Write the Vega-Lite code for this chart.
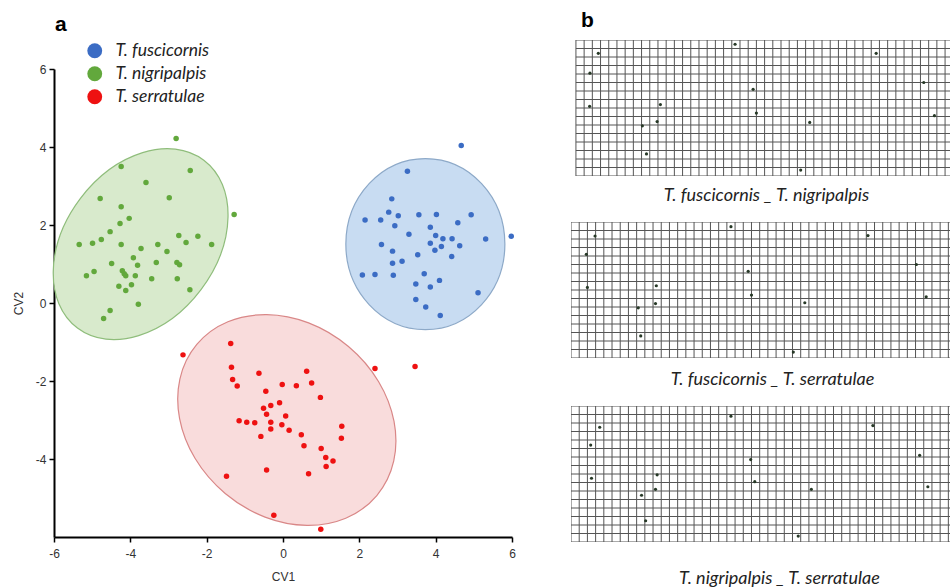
{
"$schema": "https://vega.github.io/schema/vega-lite/v6.json",
"background": "white",
"padding": {"left": 12, "top": 10, "right": 0, "bottom": 0},
"config": {"view": {"stroke": null}, "font": "Liberation Sans"},
"datasets": {
"ell": [{"sp":"T. fuscicornis","x":3.73,"y":1.51},{"sp":"T. nigripalpis","x":-3.73,"y":1.51},{"sp":"T. serratulae","x":0.1,"y":-3.0}],
"pts": [
{"sp":"T. fuscicornis","x":4.67,"y":4.04},{"sp":"T. fuscicornis","x":3.26,"y":3.38},{"sp":"T. fuscicornis","x":2.85,"y":2.67},{"sp":"T. fuscicornis","x":2.77,"y":2.33},{"sp":"T. fuscicornis","x":3.02,"y":2.24},{"sp":"T. fuscicornis","x":2.15,"y":2.13},{"sp":"T. fuscicornis","x":2.56,"y":2.13},{"sp":"T. fuscicornis","x":3.56,"y":2.26},{"sp":"T. fuscicornis","x":4.02,"y":2.27},{"sp":"T. fuscicornis","x":4.93,"y":2.26},{"sp":"T. fuscicornis","x":4.58,"y":2.06},{"sp":"T. fuscicornis","x":2.93,"y":1.98},{"sp":"T. fuscicornis","x":3.86,"y":1.94},{"sp":"T. fuscicornis","x":3.3,"y":1.76},{"sp":"T. fuscicornis","x":4.0,"y":1.73},{"sp":"T. fuscicornis","x":4.19,"y":1.65},{"sp":"T. fuscicornis","x":4.43,"y":1.65},{"sp":"T. fuscicornis","x":5.31,"y":1.64},{"sp":"T. fuscicornis","x":5.98,"y":1.71},{"sp":"T. fuscicornis","x":2.58,"y":1.5},{"sp":"T. fuscicornis","x":3.86,"y":1.53},{"sp":"T. fuscicornis","x":4.15,"y":1.45},{"sp":"T. fuscicornis","x":3.98,"y":1.35},{"sp":"T. fuscicornis","x":4.63,"y":1.47},{"sp":"T. fuscicornis","x":2.87,"y":1.33},{"sp":"T. fuscicornis","x":3.53,"y":1.24},{"sp":"T. fuscicornis","x":4.42,"y":1.19},{"sp":"T. fuscicornis","x":3.12,"y":1.07},{"sp":"T. fuscicornis","x":2.87,"y":1.02},{"sp":"T. fuscicornis","x":2.08,"y":0.72},{"sp":"T. fuscicornis","x":2.41,"y":0.73},{"sp":"T. fuscicornis","x":2.89,"y":0.71},{"sp":"T. fuscicornis","x":3.7,"y":0.75},{"sp":"T. fuscicornis","x":4.1,"y":0.58},{"sp":"T. fuscicornis","x":3.48,"y":0.49},{"sp":"T. fuscicornis","x":3.86,"y":0.41},{"sp":"T. fuscicornis","x":5.11,"y":0.26},{"sp":"T. fuscicornis","x":3.48,"y":0.09},{"sp":"T. fuscicornis","x":3.74,"y":-0.1},{"sp":"T. fuscicornis","x":4.12,"y":-0.32},
{"sp":"T. nigripalpis","x":-2.8,"y":4.22},{"sp":"T. nigripalpis","x":-4.24,"y":3.5},{"sp":"T. nigripalpis","x":-2.43,"y":3.4},{"sp":"T. nigripalpis","x":-3.59,"y":3.09},{"sp":"T. nigripalpis","x":-4.79,"y":2.68},{"sp":"T. nigripalpis","x":-2.98,"y":2.7},{"sp":"T. nigripalpis","x":-4.24,"y":2.47},{"sp":"T. nigripalpis","x":-1.28,"y":2.27},{"sp":"T. nigripalpis","x":-4.03,"y":2.17},{"sp":"T. nigripalpis","x":-4.27,"y":2.04},{"sp":"T. nigripalpis","x":-4.53,"y":1.83},{"sp":"T. nigripalpis","x":-5.34,"y":1.5},{"sp":"T. nigripalpis","x":-4.99,"y":1.53},{"sp":"T. nigripalpis","x":-4.76,"y":1.63},{"sp":"T. nigripalpis","x":-4.24,"y":1.5},{"sp":"T. nigripalpis","x":-3.72,"y":1.4},{"sp":"T. nigripalpis","x":-2.73,"y":1.73},{"sp":"T. nigripalpis","x":-2.54,"y":1.55},{"sp":"T. nigripalpis","x":-2.23,"y":1.71},{"sp":"T. nigripalpis","x":-1.87,"y":1.5},{"sp":"T. nigripalpis","x":-3.28,"y":1.5},{"sp":"T. nigripalpis","x":-3.04,"y":1.32},{"sp":"T. nigripalpis","x":-3.92,"y":1.16},{"sp":"T. nigripalpis","x":-4.49,"y":1.01},{"sp":"T. nigripalpis","x":-3.81,"y":0.97},{"sp":"T. nigripalpis","x":-3.32,"y":1.04},{"sp":"T. nigripalpis","x":-2.78,"y":1.04},{"sp":"T. nigripalpis","x":-2.71,"y":0.98},{"sp":"T. nigripalpis","x":-5.15,"y":0.7},{"sp":"T. nigripalpis","x":-4.95,"y":0.81},{"sp":"T. nigripalpis","x":-4.21,"y":0.83},{"sp":"T. nigripalpis","x":-4.16,"y":0.75},{"sp":"T. nigripalpis","x":-4.12,"y":0.7},{"sp":"T. nigripalpis","x":-3.87,"y":0.7},{"sp":"T. nigripalpis","x":-3.44,"y":0.62},{"sp":"T. nigripalpis","x":-2.77,"y":0.62},{"sp":"T. nigripalpis","x":-4.3,"y":0.43},{"sp":"T. nigripalpis","x":-3.97,"y":0.47},{"sp":"T. nigripalpis","x":-4.12,"y":0.32},{"sp":"T. nigripalpis","x":-2.44,"y":0.34},{"sp":"T. nigripalpis","x":-3.79,"y":-0.03},{"sp":"T. nigripalpis","x":-4.53,"y":-0.19},{"sp":"T. nigripalpis","x":-4.7,"y":-0.4},
{"sp":"T. serratulae","x":-2.62,"y":-1.33},{"sp":"T. serratulae","x":-1.37,"y":-1.04},{"sp":"T. serratulae","x":-1.35,"y":-1.65},{"sp":"T. serratulae","x":-0.63,"y":-1.8},{"sp":"T. serratulae","x":-1.32,"y":-1.96},{"sp":"T. serratulae","x":-1.2,"y":-2.13},{"sp":"T. serratulae","x":-0.45,"y":-2.26},{"sp":"T. serratulae","x":-0.02,"y":-2.09},{"sp":"T. serratulae","x":0.35,"y":-2.12},{"sp":"T. serratulae","x":-0.09,"y":-2.56},{"sp":"T. serratulae","x":-0.32,"y":-2.63},{"sp":"T. serratulae","x":-0.51,"y":-2.7},{"sp":"T. serratulae","x":-0.43,"y":-2.85},{"sp":"T. serratulae","x":0.07,"y":-2.9},{"sp":"T. serratulae","x":-1.15,"y":-3.02},{"sp":"T. serratulae","x":-0.95,"y":-3.06},{"sp":"T. serratulae","x":-0.74,"y":-3.07},{"sp":"T. serratulae","x":-0.32,"y":-3.06},{"sp":"T. serratulae","x":-0.03,"y":-3.12},{"sp":"T. serratulae","x":-0.32,"y":-3.23},{"sp":"T. serratulae","x":0.16,"y":-3.26},{"sp":"T. serratulae","x":-0.58,"y":-3.42},{"sp":"T. serratulae","x":-0.43,"y":-4.28},{"sp":"T. serratulae","x":-1.48,"y":-4.44},{"sp":"T. serratulae","x":-0.24,"y":-5.44},{"sp":"T. serratulae","x":0.48,"y":-3.38},{"sp":"T. serratulae","x":0.55,"y":-3.66},{"sp":"T. serratulae","x":1.54,"y":-3.16},{"sp":"T. serratulae","x":1.53,"y":-3.47},{"sp":"T. serratulae","x":1.0,"y":-3.73},{"sp":"T. serratulae","x":1.12,"y":-3.96},{"sp":"T. serratulae","x":1.31,"y":-4.05},{"sp":"T. serratulae","x":1.13,"y":-4.19},{"sp":"T. serratulae","x":0.67,"y":-4.38},{"sp":"T. serratulae","x":0.99,"y":-5.8},{"sp":"T. serratulae","x":2.41,"y":-1.68},{"sp":"T. serratulae","x":3.46,"y":-1.63},{"sp":"T. serratulae","x":0.62,"y":-1.75},{"sp":"T. serratulae","x":0.75,"y":-2.05},{"sp":"T. serratulae","x":0.98,"y":-2.42}
],
"grid": [
{"x":0,"x2":0,"y":0,"y2":16},{"x":1,"x2":1,"y":0,"y2":16},{"x":2,"x2":2,"y":0,"y2":16},{"x":3,"x2":3,"y":0,"y2":16},{"x":4,"x2":4,"y":0,"y2":16},{"x":5,"x2":5,"y":0,"y2":16},{"x":6,"x2":6,"y":0,"y2":16},{"x":7,"x2":7,"y":0,"y2":16},{"x":8,"x2":8,"y":0,"y2":16},{"x":9,"x2":9,"y":0,"y2":16},{"x":10,"x2":10,"y":0,"y2":16},{"x":11,"x2":11,"y":0,"y2":16},{"x":12,"x2":12,"y":0,"y2":16},{"x":13,"x2":13,"y":0,"y2":16},{"x":14,"x2":14,"y":0,"y2":16},{"x":15,"x2":15,"y":0,"y2":16},{"x":16,"x2":16,"y":0,"y2":16},{"x":17,"x2":17,"y":0,"y2":16},{"x":18,"x2":18,"y":0,"y2":16},{"x":19,"x2":19,"y":0,"y2":16},{"x":20,"x2":20,"y":0,"y2":16},{"x":21,"x2":21,"y":0,"y2":16},{"x":22,"x2":22,"y":0,"y2":16},{"x":23,"x2":23,"y":0,"y2":16},{"x":24,"x2":24,"y":0,"y2":16},{"x":25,"x2":25,"y":0,"y2":16},{"x":26,"x2":26,"y":0,"y2":16},{"x":27,"x2":27,"y":0,"y2":16},{"x":28,"x2":28,"y":0,"y2":16},{"x":29,"x2":29,"y":0,"y2":16},{"x":30,"x2":30,"y":0,"y2":16},{"x":31,"x2":31,"y":0,"y2":16},{"x":32,"x2":32,"y":0,"y2":16},{"x":33,"x2":33,"y":0,"y2":16},{"x":34,"x2":34,"y":0,"y2":16},{"x":35,"x2":35,"y":0,"y2":16},{"x":36,"x2":36,"y":0,"y2":16},{"x":37,"x2":37,"y":0,"y2":16},{"x":38,"x2":38,"y":0,"y2":16},{"x":39,"x2":39,"y":0,"y2":16},{"x":40,"x2":40,"y":0,"y2":16},{"x":41,"x2":41,"y":0,"y2":16},{"x":42,"x2":42,"y":0,"y2":16},{"x":43,"x2":43,"y":0,"y2":16},{"x":44,"x2":44,"y":0,"y2":16},{"x":45,"x2":45,"y":0,"y2":16},{"x":46,"x2":46,"y":0,"y2":16},{"x":47,"x2":47,"y":0,"y2":16},
{"x":0,"x2":47,"y":0,"y2":0},{"x":0,"x2":47,"y":1,"y2":1},{"x":0,"x2":47,"y":2,"y2":2},{"x":0,"x2":47,"y":3,"y2":3},{"x":0,"x2":47,"y":4,"y2":4},{"x":0,"x2":47,"y":5,"y2":5},{"x":0,"x2":47,"y":6,"y2":6},{"x":0,"x2":47,"y":7,"y2":7},{"x":0,"x2":47,"y":8,"y2":8},{"x":0,"x2":47,"y":9,"y2":9},{"x":0,"x2":47,"y":10,"y2":10},{"x":0,"x2":47,"y":11,"y2":11},{"x":0,"x2":47,"y":12,"y2":12},{"x":0,"x2":47,"y":13,"y2":13},{"x":0,"x2":47,"y":14,"y2":14},{"x":0,"x2":47,"y":15,"y2":15},{"x":0,"x2":47,"y":16,"y2":16}
],
"lm": [
{"p":1,"x":2.73,"y":1.57},{"p":1,"x":1.71,"y":3.9},{"p":1,"x":1.67,"y":7.8},{"p":1,"x":10.3,"y":7.6},{"p":1,"x":8.1,"y":10.1},{"p":1,"x":9.9,"y":9.6},{"p":1,"x":8.6,"y":13.4},{"p":1,"x":19.4,"y":0.5},{"p":1,"x":21.6,"y":5.8},{"p":1,"x":22.0,"y":8.6},{"p":1,"x":28.5,"y":9.7},{"p":1,"x":27.4,"y":15.3},{"p":1,"x":36.6,"y":1.57},{"p":1,"x":42.4,"y":5.0},{"p":1,"x":43.7,"y":8.9},
{"p":2,"x":2.93,"y":1.65},{"p":2,"x":1.87,"y":3.8},{"p":2,"x":2.0,"y":7.7},{"p":2,"x":10.4,"y":7.5},{"p":2,"x":8.2,"y":10.1},{"p":2,"x":10.3,"y":9.6},{"p":2,"x":8.5,"y":13.4},{"p":2,"x":19.5,"y":0.55},{"p":2,"x":21.6,"y":5.8},{"p":2,"x":22.0,"y":8.6},{"p":2,"x":28.5,"y":9.5},{"p":2,"x":27.1,"y":15.3},{"p":2,"x":36.2,"y":1.6},{"p":2,"x":42.1,"y":5.0},{"p":2,"x":43.3,"y":8.8},
{"p":3,"x":3.5,"y":2.5},{"p":3,"x":2.4,"y":4.6},{"p":3,"x":2.5,"y":8.5},{"p":3,"x":10.5,"y":8.1},{"p":3,"x":8.6,"y":10.5},{"p":3,"x":10.3,"y":9.8},{"p":3,"x":9.1,"y":13.5},{"p":3,"x":19.5,"y":1.2},{"p":3,"x":21.9,"y":6.3},{"p":3,"x":22.4,"y":8.9},{"p":3,"x":29.3,"y":9.8},{"p":3,"x":27.7,"y":15.3},{"p":3,"x":36.8,"y":2.3},{"p":3,"x":42.5,"y":5.8},{"p":3,"x":43.5,"y":9.5}
]
},
"spacing": 55,
"hconcat": [
{
"width": 458, "height": 497,
"title": {"text": "a", "anchor": "start", "frame": "group", "dx": 1, "fontSize": 21, "fontWeight": "bold", "font": "Liberation Sans", "color": "#000", "offset": 5},
"encoding": {
"x": {"field": "x", "type": "quantitative", "scale": {"domain": [-6, 6], "nice": false, "zero": false},
 "axis": {"title": "CV1", "values": [-6,-4,-2,0,2,4,6], "labelExpr": "'' + datum.value", "labelFlush": false, "grid": false, "domainColor": "#000", "domainWidth": 2, "tickColor": "#000", "tickWidth": 1.5, "tickSize": 5, "labelFontSize": 12, "labelColor": "#333", "labelPadding": 6, "titleFontSize": 12, "titleFontWeight": "normal", "titleColor": "#333", "titlePadding": 12}},
"y": {"field": "y", "type": "quantitative", "scale": {"domain": [-6, 6], "nice": false, "zero": false, "range": [497, 29]},
 "axis": {"title": "CV2", "values": [-4,-2,0,2,4,6], "labelExpr": "'' + datum.value", "labelFlush": false, "grid": false, "domainColor": "#000", "domainWidth": 2, "tickColor": "#000", "tickWidth": 1.5, "tickSize": 5, "labelFontSize": 12, "labelColor": "#333", "labelPadding": 3, "titleFontSize": 12, "titleFontWeight": "normal", "titleColor": "#333", "titlePadding": 10}}
},
"layer": [
{"data": {"name": "ell"}, "transform": [{"filter": "datum.sp === 'T. nigripalpis'"}],
 "mark": {"type": "point", "shape": "M 1 0 C 1 0.398 0.552 0.72 0 0.72 C -0.552 0.72 -1 0.398 -1 0 C -1 -0.398 -0.552 -0.72 0 -0.72 C 0.552 -0.72 1 -0.398 1 0 Z", "size": 44100, "angle": 307, "filled": true, "fill": "#d8eacc", "stroke": "#8fbd7b", "strokeWidth": 1.2, "opacity": 1}},
{"data": {"name": "ell"}, "transform": [{"filter": "datum.sp === 'T. fuscicornis'"}],
 "mark": {"type": "point", "shape": "M 0.93 0 C 0.93 0.552 0.514 1 0 1 C -0.514 1 -0.93 0.552 -0.93 0 C -0.93 -0.552 -0.514 -1 0 -1 C 0.514 -1 0.93 -0.552 0.93 0 Z", "size": 29241, "angle": 0, "filled": true, "fill": "#c8dcf2", "stroke": "#8da9c8", "strokeWidth": 1.2, "opacity": 1}},
{"data": {"name": "ell"}, "transform": [{"filter": "datum.sp === 'T. serratulae'"}],
 "mark": {"type": "point", "shape": "M 1 0 C 1 0.451 0.552 0.816 0 0.816 C -0.552 0.816 -1 0.451 -1 0 C -1 -0.451 -0.552 -0.816 0 -0.816 C 0.552 -0.816 1 -0.451 1 0 Z", "size": 55225, "angle": 40, "filled": true, "fill": "#f9dcdc", "stroke": "#d98787", "strokeWidth": 1.2, "opacity": 1}},
{"data": {"name": "pts"},
 "mark": {"type": "point", "filled": true, "size": 30, "opacity": 1},
 "encoding": {"color": {"field": "sp", "type": "nominal",
   "scale": {"domain": ["T. fuscicornis", "T. nigripalpis", "T. serratulae"], "range": ["#3b6cc4", "#62a83c", "#ee1111"]},
   "legend": {"title": null, "orient": "none", "legendX": 32, "legendY": 2, "padding": 0, "symbolType": "circle", "symbolSize": 220, "symbolOpacity": 1, "symbolStrokeWidth": 0, "labelFont": "Lato", "labelFontStyle": "italic", "labelFontSize": 17.5, "labelColor": "#222", "labelOffset": 12, "rowPadding": 4}}}}
]
},
{
"title": {"text": "b", "anchor": "start", "frame": "group", "dx": 10, "fontSize": 21, "fontWeight": "bold", "font": "Liberation Sans", "color": "#000", "offset": 9},
"spacing": 17,
"vconcat": [
{"width": 379, "height": 136,
 "title": {"text": "T. fuscicornis _ T. nigripalpis", "orient": "bottom", "font": "Lato", "fontStyle": "italic", "fontWeight": "normal", "fontSize": 18, "color": "#222", "offset": 11, "dx": 6},
 "encoding": {"x": {"field": "x", "type": "quantitative", "scale": {"domain": [-0.6, 45.6], "nice": false, "zero": false}, "axis": null},
              "y": {"field": "y", "type": "quantitative", "scale": {"domain": [0, 16], "nice": false, "zero": false, "reverse": true}, "axis": null}},
 "layer": [
  {"data": {"name": "grid"}, "mark": {"type": "rule", "color": "#555555", "strokeWidth": 1, "clip": true}, "encoding": {"x2": {"field": "x2"}, "y2": {"field": "y2"}}},
  {"data": {"name": "lm"}, "transform": [{"filter": "datum.p === 1"}], "mark": {"type": "point", "filled": true, "size": 10, "color": "#263826", "opacity": 1}}
 ]},
{"width": 379, "height": 136,
 "title": {"text": "T. fuscicornis _ T. serratulae", "orient": "bottom", "font": "Lato", "fontStyle": "italic", "fontWeight": "normal", "fontSize": 18, "color": "#222", "offset": 13, "dx": 12},
 "encoding": {"x": {"field": "x", "type": "quantitative", "scale": {"domain": [0, 46.2], "nice": false, "zero": false}, "axis": null},
              "y": {"field": "y", "type": "quantitative", "scale": {"domain": [0, 16], "nice": false, "zero": false, "reverse": true}, "axis": null}},
 "layer": [
  {"data": {"name": "grid"}, "mark": {"type": "rule", "color": "#555555", "strokeWidth": 1, "clip": true}, "encoding": {"x2": {"field": "x2"}, "y2": {"field": "y2"}}},
  {"data": {"name": "lm"}, "transform": [{"filter": "datum.p === 2"}], "mark": {"type": "point", "filled": true, "size": 10, "color": "#263826", "opacity": 1}}
 ]},
{"width": 379, "height": 136,
 "title": {"text": "T. nigripalpis _ T. serratulae", "orient": "bottom", "font": "Lato", "fontStyle": "italic", "fontWeight": "normal", "fontSize": 18, "color": "#222", "offset": 28, "dx": 19},
 "encoding": {"x": {"field": "x", "type": "quantitative", "scale": {"domain": [0, 46.2], "nice": false, "zero": false}, "axis": null},
              "y": {"field": "y", "type": "quantitative", "scale": {"domain": [0, 16], "nice": false, "zero": false, "reverse": true}, "axis": null}},
 "layer": [
  {"data": {"name": "grid"}, "mark": {"type": "rule", "color": "#555555", "strokeWidth": 1, "clip": true}, "encoding": {"x2": {"field": "x2"}, "y2": {"field": "y2"}}},
  {"data": {"name": "lm"}, "transform": [{"filter": "datum.p === 3"}], "mark": {"type": "point", "filled": true, "size": 10, "color": "#263826", "opacity": 1}}
 ]}
]
}
]
}
